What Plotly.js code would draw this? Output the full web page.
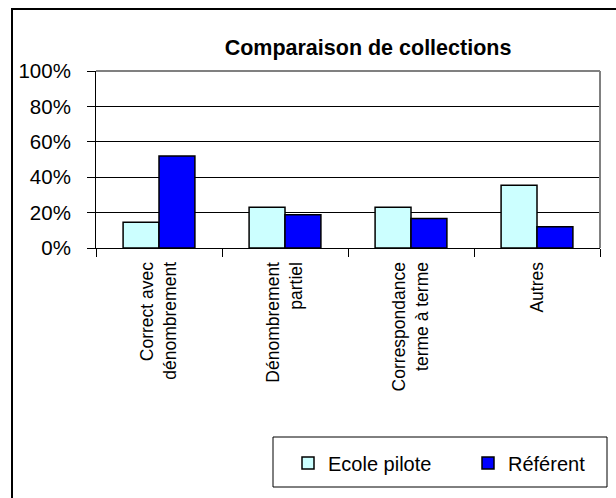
<!DOCTYPE html>
<html><head><meta charset="utf-8">
<script src="https://cdn.plot.ly/plotly-3.0.1.min.js"></script>
<style>
html,body{margin:0;padding:0;background:#fff;overflow:hidden;}
#frame{position:absolute;left:11px;top:8px;width:700px;height:600px;border-left:2px solid #000;border-top:2px solid #000;}
#chart{position:absolute;left:0;top:0;width:616px;height:498px;}
</style></head>
<body>
<div id="frame"></div>
<div id="chart"></div>
<script>
const categories = ["Correct avec<br>dénombrement", "Dénombrement<br>partiel", "Correspondance<br>terme à terme", "Autres"];
const ecolePilote = [0.145, 0.23, 0.23, 0.355];
const referent = [0.52, 0.188, 0.167, 0.12];
const seriesNames = ["Ecole pilote", "Référent"];
const yTickVals = [0, 0.2, 0.4, 0.6, 0.8, 1.0];

const FONT = "'Liberation Sans', Arial, sans-serif";

const traces = [
  {type: 'bar', name: seriesNames[0], x: categories, y: ecolePilote, legendwidth: 135,
   marker: {color: '#CCFFFF', line: {color: '#000', width: 1.5}}},
  {type: 'bar', name: seriesNames[1], x: categories, y: referent, legendwidth: 80,
   marker: {color: '#0000FF', line: {color: '#000', width: 1.5}}}
];

const layout = {
  width: 616, height: 498,
  margin: {l: 96, r: 16, t: 71, b: 250},
  paper_bgcolor: 'rgba(0,0,0,0)', plot_bgcolor: '#fff',
  font: {family: FONT, color: '#000'},
  title: {text: 'Comparaison de collections', font: {family: FONT, size: 21.5, weight: 'bold', color: '#000'},
          x: 368/616, xanchor: 'center', xref: 'container', y: 1 - 47/498, yanchor: 'middle', yref: 'container'},
  barmode: 'group', bargap: 0.43, bargroupgap: 0,
  showlegend: true,
  legend: {orientation: 'h', xref: 'container', yref: 'container', x: 288/616, xanchor: 'left',
           y: 1 - 463/498, yanchor: 'middle',
           borderwidth: 0, bgcolor: 'rgba(0,0,0,0)',
           font: {family: FONT, size: 20, color: '#000'}, traceorder: 'normal'},
  xaxis: {type: 'category', tickson: 'boundaries', ticks: 'outside', ticklen: 8, tickcolor: '#000', tickwidth: 1,
          showline: true, linecolor: '#000', linewidth: 1, showgrid: false, tickangle: -90,
          tickfont: {family: FONT, size: 17.5, color: '#000'}, ticklabelstandoff: 6, fixedrange: true},
  yaxis: {range: [0, 1], tickvals: yTickVals, tickformat: '.0%', ticks: 'outside', ticklen: 8, tickcolor: '#000',
          showline: true, linecolor: '#000', linewidth: 1, showgrid: true, gridcolor: '#000', gridwidth: 1,
          zeroline: false, tickfont: {family: FONT, size: 20.5, color: '#000'}, ticklabelstandoff: 12, fixedrange: true},
  shapes: [
    {type: 'line', xref: 'paper', yref: 'paper', x0: 0, x1: 1, y0: 1, y1: 1, line: {color: '#808080', width: 2}, layer: 'above'},
    {type: 'line', xref: 'paper', yref: 'paper', x0: 1, x1: 1, y0: 0, y1: 1, line: {color: '#808080', width: 2}, layer: 'above'},
    {type: 'rect', xref: 'paper', yref: 'paper', x0: (273-96)/504, x1: (607-96)/504, y0: (248-487)/177, y1: (248-437)/177,
     line: {color: '#000', width: 1}, fillcolor: 'rgba(0,0,0,0)', layer: 'above'}
  ]
};

Plotly.newPlot('chart', traces, layout, {displayModeBar: false, staticPlot: true});
</script>
</body></html>
